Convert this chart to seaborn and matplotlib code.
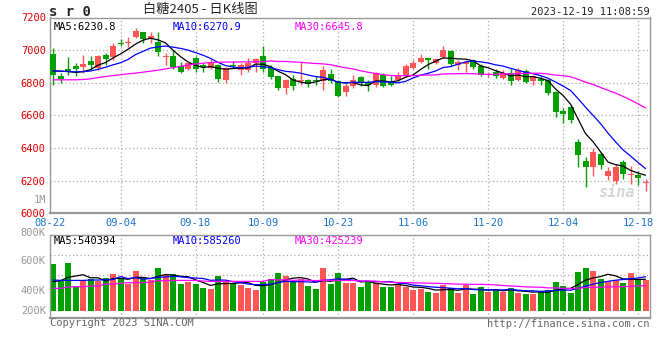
import numpy as np
import pandas as pd
import matplotlib
matplotlib.use("Agg")
import matplotlib.pyplot as plt
import seaborn as sns

# ---- data (08-22 .. 12-19) ----
opens = [6977, 6843, 6886, 6900, 6894, 6935, 6890, 6971, 6957, 7045,
         7043, 7080, 7110, 7067, 7052, 6955, 6965, 6900, 6884, 6951,
         6908, 6890, 6910, 6815, 6910, 6880, 6880, 6924, 6961, 6890,
         6839, 6768, 6823, 6813, 6819, 6817, 6813, 6855, 6813, 6741,
         6778, 6833, 6805, 6788, 6849, 6805, 6815, 6839, 6890, 6930,
         6951, 6924, 6957, 6992, 6910, 6916, 6937, 6900, 6849, 6863,
         6830, 6860, 6819, 6874, 6809, 6825, 6819, 6742, 6626, 6651,
         6434, 6322, 6281, 6363, 6231, 6200, 6312, 6235, 6235, 6184]
highs = [7014, 6859, 6959, 6921, 6971, 6965, 6971, 6985, 7043, 7067,
         7080, 7134, 7113, 7113, 7113, 6982, 7002, 6930, 6930, 6961,
         6921, 6945, 6916, 6896, 6935, 6921, 6951, 6951, 7026, 6910,
         6843, 6823, 6849, 6930, 6823, 6839, 6900, 6884, 6819, 6799,
         6849, 6843, 6815, 6863, 6860, 6843, 6863, 6916, 6941, 6977,
         6951, 6951, 7026, 7002, 6941, 6941, 6945, 6916, 6869, 6884,
         6880, 6884, 6890, 6884, 6850, 6840, 6823, 6748, 6647, 6661,
         6454, 6346, 6403, 6373, 6281, 6302, 6328, 6292, 6261, 6210]
lows = [6786, 6798, 6849, 6839, 6860, 6884, 6880, 6910, 6941, 7026,
        7022, 7073, 7043, 7046, 6967, 6910, 6884, 6860, 6880, 6866,
        6869, 6884, 6802, 6799, 6890, 6849, 6869, 6869, 6869, 6823,
        6758, 6733, 6754, 6788, 6774, 6788, 6758, 6799, 6713, 6721,
        6768, 6778, 6748, 6772, 6774, 6778, 6809, 6835, 6884, 6924,
        6884, 6916, 6951, 6900, 6880, 6869, 6884, 6843, 6835, 6829,
        6823, 6789, 6809, 6799, 6789, 6789, 6728, 6592, 6555, 6555,
        6285, 6160, 6227, 6271, 6206, 6180, 6210, 6180, 6174, 6139]
closes = [6850, 6823, 6868, 6886, 6915, 6910, 6961, 6947, 7026, 7040,
          7052, 7120, 7067, 7087, 6988, 6961, 6896, 6869, 6924, 6884,
          6894, 6924, 6823, 6890, 6904, 6910, 6924, 6945, 6884, 6833,
          6768, 6819, 6782, 6819, 6794, 6813, 6880, 6810, 6717, 6782,
          6819, 6807, 6788, 6860, 6782, 6788, 6843, 6900, 6924, 6951,
          6937, 6947, 7002, 6916, 6930, 6930, 6896, 6849, 6855, 6839,
          6860, 6809, 6876, 6803, 6840, 6809, 6738, 6620, 6606, 6572,
          6359, 6285, 6373, 6296, 6257, 6281, 6241, 6241, 6214, 6190]
volumes_k = [802, 516, 825, 424, 527, 539, 516, 556, 630, 539,
             458, 682, 556, 527, 733, 613, 630, 458, 493, 458,
             390, 372, 596, 516, 470, 441, 390, 355, 493, 544,
             647, 596, 516, 544, 424, 372, 733, 458, 647, 481,
             481, 407, 510, 481, 407, 407, 458, 413, 355, 378,
             321, 304, 441, 384, 304, 441, 287, 407, 327, 355,
             327, 390, 309, 287, 287, 338, 355, 493, 424, 309,
             665, 733, 682, 544, 510, 527, 476, 647, 527, 527]

# moving-average values at the left edge (window reaches before 08-22)
ma5_head = [6873, 6871, 6869, 6863]
ma10_head = [6873, 6871, 6869, 6867, 6868, 6872, 6882, 6895, 6910]
ma30_head = [6818, 6818, 6818, 6818, 6820, 6824, 6832, 6838, 6844, 6849,
             6855, 6859, 6865, 6871, 6877, 6885, 6893, 6901, 6909, 6915,
             6920, 6924, 6926, 6927, 6927, 6928, 6928, 6929, 6930]
vma5_head = [498, 516, 573, 596]
vma10_head = [527, 521, 521, 521, 521, 527, 527, 533, 533]
vma30_head = [384, 384, 407, 413, 413, 424, 424, 458, 458, 470,
              481, 481, 481, 493, 516, 516, 521, 521, 521, 521,
              510, 504, 504, 504, 504, 504, 504, 504, 504]

tick_idx = [0, 9, 19, 28, 38, 48, 58, 68, 78]
tick_labels = ["08-22", "09-04", "09-18", "10-09", "10-23",
               "11-06", "11-20", "12-04", "12-18"]


def moving_avg(values, n, head):
    ma = pd.Series(values, dtype=float).rolling(n).mean().to_numpy()
    ma[:len(head)] = head
    return ma


sns.set_style("white")
plt.rcParams["font.family"] = ["DejaVu Sans Mono", "Noto Sans CJK SC"]

RED, GREEN = "#ff5555", "#00a000"
GRID = "#aaaaaa"
SPINE = "#999999"

idx = np.arange(len(closes))
o, h, l, c = map(np.array, (opens, highs, lows, closes))
vol = np.array(volumes_k) * 1000
colors = np.where(c >= o, RED, GREEN)

fig = plt.figure(figsize=(6.6, 3.6), dpi=100)
ax = fig.add_axes([50 / 660, 1 - 213.3 / 360, 600 / 660, (213.3 - 17.5) / 360])
axv = fig.add_axes([50 / 660, 1 - 318.3 / 360, 600 / 660, (318.3 - 235) / 360])

xt = np.array(tick_idx, dtype=float)
xt[0] = -0.4

# ---- price panel ----
ax.vlines(idx, l, h, colors=colors, linewidth=1, zorder=2)
ax.bar(idx, np.maximum(np.abs(c - o), 5), bottom=np.minimum(o, c),
       width=0.8, color=colors, linewidth=0, zorder=3)
for ma, col in [(moving_avg(closes, 5, ma5_head), "black"),
                (moving_avg(closes, 10, ma10_head), "#0000ff"),
                (moving_avg(closes, 30, ma30_head), "#ff00ff")]:
    sns.lineplot(x=idx, y=ma, ax=ax, color=col, linewidth=0.9, zorder=4)

ax.set_xlim(-0.4, 79.6)
ax.set_ylim(6000, 7200)
ax.set_yticks(range(6000, 7201, 200))
ax.set_xticks(xt, tick_labels)
ax.tick_params(axis="y", length=0, pad=3, labelsize=7.5, labelcolor="#e00000")
ax.tick_params(axis="x", length=0, pad=3.5, labelsize=7.5, labelcolor="#1874cd")
ax.grid(True, linestyle=(0, (1, 2)), color=GRID, linewidth=0.9)
for s in ax.spines.values():
    s.set_color(SPINE)
    s.set_linewidth(1)
ax.spines["bottom"].set_linewidth(1.6)

ax.text(0.006, 0.975, "MA5:6230.8", transform=ax.transAxes, fontsize=7.5,
        color="black", va="top", ha="left")
ax.text(0.205, 0.975, "MA10:6270.9", transform=ax.transAxes, fontsize=7.5,
        color="#0000ff", va="top", ha="left")
ax.text(0.408, 0.975, "MA30:6645.8", transform=ax.transAxes, fontsize=7.5,
        color="#ff00ff", va="top", ha="left")
ax.text(0.975, 0.07, "sina", transform=ax.transAxes, fontsize=11,
        color="#d6d6d6", style="italic", weight="bold", ha="right", va="bottom")

# ---- volume panel ----
axv.bar(idx, vol, width=0.8, color=colors, linewidth=0, zorder=2)
for ma, col in [(moving_avg(vol, 5, np.array(vma5_head) * 1000), "black"),
                (moving_avg(vol, 10, np.array(vma10_head) * 1000), "#0000ff"),
                (moving_avg(vol, 30, np.array(vma30_head) * 1000), "#ff00ff")]:
    sns.lineplot(x=idx, y=ma, ax=axv, color=col, linewidth=0.9, zorder=4)

axv.set_xlim(-0.4, 79.6)
axv.set_ylim(-131e3, 1302e3)
axv.set_yticks([270e3, 614e3, 951e3], [])
axv.set_xticks(xt, [])
axv.tick_params(length=0)
axv.grid(True, linestyle=(0, (1, 2)), color=GRID, linewidth=0.9)
for s in axv.spines.values():
    s.set_color(SPINE)
    s.set_linewidth(1)
axv.spines["bottom"].set_linewidth(1.6)

ytr = axv.get_yaxis_transform()
for val, lab in [(0, "200K"), (344e3, "400K"), (860e3, "600K"),
                 (1330e3, "800K"), (1904e3, "1M")]:
    axv.text(-0.007, val, lab, transform=ytr, fontsize=7.5, color="#999999",
             ha="right", va="center", clip_on=False)

axv.text(0.006, 0.985, "MA5:540394", transform=axv.transAxes, fontsize=7.5,
         color="black", va="top", ha="left")
axv.text(0.205, 0.985, "MA10:585260", transform=axv.transAxes, fontsize=7.5,
         color="#0000ff", va="top", ha="left")
axv.text(0.408, 0.985, "MA30:425239", transform=axv.transAxes, fontsize=7.5,
         color="#ff00ff", va="top", ha="left")

# ---- header / footer ----
fig.text(49 / 660, 1 - 12 / 360, "s r 0", fontsize=10, weight="bold",
         ha="left", va="center")
fig.text(200 / 660, 1 - 9 / 360, "白糖2405 - 日K线图", fontsize=9.5,
         ha="center", va="center",
         family=["Noto Sans CJK SC", "DejaVu Sans"])
fig.text(650 / 660, 1 - 12 / 360, "2023-12-19 11:08:59", fontsize=7.5,
         ha="right", va="center")
fig.text(50 / 660, 1 - 323.5 / 360, "Copyright 2023 SINA.COM", fontsize=7.5,
         color="#666666", ha="left", va="center")
fig.text(650 / 660, 1 - 324 / 360, "http://finance.sina.com.cn", fontsize=7.5,
         color="#666666", ha="right", va="center")

fig.savefig("out.png", dpi=100)
